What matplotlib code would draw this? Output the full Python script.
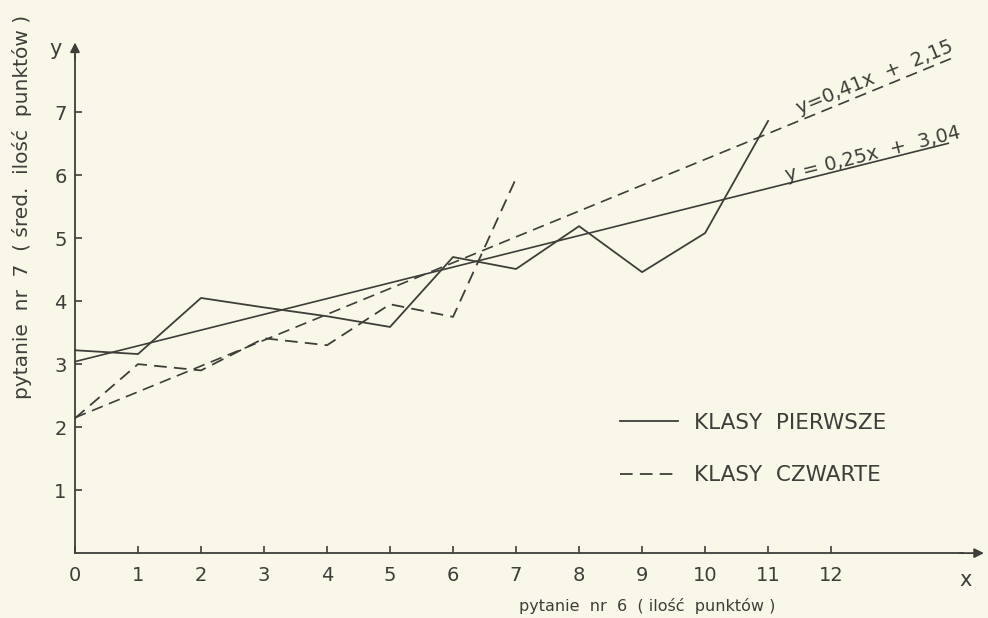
import matplotlib.pyplot as plt

# srednia ilosc punktow (pytanie nr 7) wg ilosci punktow z pytania nr 6
x_pierwsze = [0, 1, 2, 3, 4, 5, 6, 7, 8, 9, 10, 11]
y_pierwsze = [3.22, 3.16, 4.05, 3.9, 3.76, 3.59, 4.70, 4.51, 5.19, 4.46, 5.08, 6.86]

x_czwarte = [0, 1, 2, 3, 4, 5, 6, 7]
y_czwarte = [2.14, 3.0, 2.9, 3.41, 3.3, 3.95, 3.75, 5.95]

# proste regresji
reg_pierwsze = (0.25, 3.04)
reg_czwarte = (0.41, 2.15)
reg_x_end = [13.86, 13.94]

x_ticks = list(range(0, 13))
y_ticks = list(range(1, 8))

ink = '#3e3e3a'
paper = '#f9f7e7'

fig = plt.figure(figsize=(9.88, 6.18), dpi=100, facecolor=paper)
ax = fig.add_axes([0, 0, 1, 1])
ax.set_facecolor(paper)
ax.set_xlim(-1.19, 14.49)
ax.set_ylim(-1.03, 8.78)

for side in ['top', 'right']:
    ax.spines[side].set_visible(False)
ax.spines['left'].set_position(('data', 0))
ax.spines['bottom'].set_position(('data', 0))
ax.spines['left'].set_bounds(0, 7.9)
ax.spines['bottom'].set_bounds(0, 14.1)
for side in ['left', 'bottom']:
    ax.spines[side].set_color(ink)
    ax.spines[side].set_linewidth(1.3)

ax.annotate('', xy=(14.47, 0), xytext=(14.0, 0),
            arrowprops=dict(arrowstyle='-|>', color=ink, lw=1.3, mutation_scale=14))
ax.annotate('', xy=(0, 8.15), xytext=(0, 7.8),
            arrowprops=dict(arrowstyle='-|>', color=ink, lw=1.3, mutation_scale=14))

ax.set_xticks(x_ticks)
ax.set_yticks(y_ticks)
ax.tick_params(axis='both', direction='in', length=5, width=1.2, colors=ink,
               labelsize=14)
ax.tick_params(axis='x', pad=9)
ax.tick_params(axis='y', pad=6)

solid, = ax.plot(x_pierwsze, y_pierwsze, color=ink, lw=1.3)
dashed, = ax.plot(x_czwarte, y_czwarte, color=ink, lw=1.3, ls=(0, (7, 4)))

for (a, b), xe, ls in zip([reg_pierwsze, reg_czwarte], reg_x_end, ['-', (0, (7, 4))]):
    ax.plot([0, xe], [b, a * xe + b], color=ink, lw=1.2, ls=ls)

ax.text(11.3, 5.9, 'y = 0,25x  +  3,04', rotation=14, rotation_mode='anchor',
        ha='left', va='baseline', fontsize=14, color=ink)
ax.text(11.5, 6.97, 'y=0,41x  +  2,15', rotation=22.3, rotation_mode='anchor',
        ha='left', va='baseline', fontsize=14, color=ink)

ax.text(-0.3, 8.0, 'y', fontsize=15, color=ink, ha='center', va='center')
ax.text(14.13, -0.43, 'x', fontsize=15, color=ink, ha='center', va='center')

ax.text(9.08, -0.84, 'pytanie  nr  6  ( ilość  punktów )', fontsize=11.5,
        color=ink, ha='center', va='center')
ax.text(-0.84, 5.5, 'pytanie  nr  7  ( śred.  ilość  punktów )', fontsize=14.5,
        color=ink, ha='center', va='center', rotation=90)

ax.legend([solid, dashed], ['KLASY  PIERWSZE', 'KLASY  CZWARTE'],
          loc='upper left', bbox_to_anchor=(620 / 988, 1 - 413 / 618),
          frameon=False, fontsize=15.5, handlelength=2.7, handletextpad=0.75,
          labelspacing=1.5, borderpad=0, borderaxespad=0, labelcolor=ink)

fig.savefig('out.png', dpi=100, facecolor=paper)
